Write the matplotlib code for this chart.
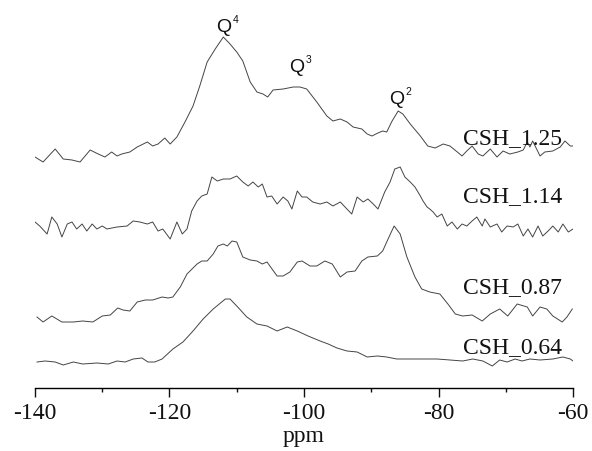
import matplotlib
matplotlib.use("Agg")

import matplotlib.pyplot as plt
from matplotlib.ticker import MultipleLocator

# 29Si NMR spectra, intensity in arbitrary units
SAMPLES = ["CSH_1.25", "CSH_1.14", "CSH_0.87", "CSH_0.64"]

PPM_125 = [-140.0, -138.8, -137.0, -135.8, -134.5, -133.3, -131.8, -130.6, -129.6, -128.6,
           -127.8, -127.1, -125.9, -124.8, -123.3, -122.5, -121.7, -120.7, -119.9, -118.9,
           -117.7, -116.5, -115.5, -114.4, -113.2, -112.0, -111.0, -110.0, -109.1, -108.0,
           -107.0, -106.1, -105.4, -104.6, -103.1, -101.6, -100.6, -99.6, -98.1, -96.6,
           -95.7, -94.6, -93.6, -92.7, -91.4, -90.6, -89.9, -89.0, -88.3, -87.7,
           -86.9, -86.0, -85.3, -84.2, -82.7, -81.6, -80.5, -79.3, -78.3, -77.2,
           -76.5, -75.8, -75.0, -74.1, -73.4, -72.3, -71.3, -70.4, -69.4, -68.2,
           -67.4, -66.8, -66.4, -66.0, -64.9, -64.2, -63.0, -61.9, -61.2, -60.4, -60.0]
INT_125 = [7, 2, 15, 5, 4, 2, 14, 10, 7, 12,
           8, 10, 12, 17, 22, 18, 20, 26, 20, 27,
           42, 58, 78, 102, 115, 127, 120, 112, 103, 82,
           72, 70, 67, 74, 75, 77, 77, 75, 62, 48,
           43, 45, 42, 37, 35, 30, 28, 31, 33, 32,
           43, 53, 50, 40, 28, 18, 16, 20, 18, 12,
           8, 13, 18, 10, 8, 15, 7, 13, 10, 12,
           14, 22, 17, 23, 8, 12, 13, 17, 23, 18, 18]

PPM_114 = [-140.0, -139.3, -138.2, -137.5, -136.7, -136.0, -135.2, -134.5, -133.8, -133.0,
           -132.3, -131.5, -130.8, -130.0, -129.3, -127.8, -126.3, -125.4, -124.4, -123.3,
           -122.5, -121.7, -121.0, -119.9, -118.9, -118.1, -117.4, -116.7, -115.9, -115.2,
           -114.4, -113.7, -112.9, -112.0, -111.0, -110.0, -109.1, -108.3, -107.6, -106.8,
           -106.2, -105.5, -104.8, -104.0, -103.1, -102.4, -101.8, -101.0, -100.3, -99.6,
           -98.7, -97.6, -96.6, -95.7, -94.6, -93.9, -92.9, -92.1, -91.2, -90.5,
           -89.7, -89.0, -88.0, -87.2, -86.5, -85.7, -85.0, -84.2, -83.5, -82.7,
           -82.3, -81.7, -81.3, -80.8, -80.2, -79.5, -78.7, -78.0, -77.2, -76.5,
           -75.8, -75.0, -74.3, -73.5, -73.1, -72.3, -71.3, -70.6, -69.8, -68.9,
           -68.2, -67.4, -66.7, -66.0, -65.2, -64.5, -63.7, -63.0, -62.2, -61.5, -60.7, -60.0]
INT_114 = [17, 13, 5, 22, 15, 2, 15, 17, 10, 15,
           8, 15, 10, 13, 10, 12, 13, 18, 17, 15,
           17, 8, 10, 0, 17, 5, 10, 28, 38, 43,
           45, 62, 58, 60, 60, 63, 57, 53, 57, 52,
           55, 42, 43, 35, 42, 38, 30, 48, 42, 42,
           37, 35, 37, 33, 37, 32, 25, 42, 37, 40,
           35, 30, 47, 57, 70, 72, 62, 57, 52, 43,
           38, 32, 30, 27, 22, 25, 13, 17, 10, 15,
           13, 18, 22, 13, 20, 12, 15, 7, 13, 12,
           15, 3, 10, 2, 13, 3, 8, 13, 7, 15, 7, 10]

PPM_087 = [-139.7, -138.8, -137.5, -136.0, -134.3, -132.9, -131.4, -130.0, -128.8, -127.7,
           -126.9, -125.9, -124.8, -123.6, -122.5, -121.1, -120.2, -119.5, -118.4, -117.4,
           -115.9, -115.2, -114.4, -113.5, -112.8, -112.0, -111.4, -110.7, -110.0, -109.1,
           -108.0, -107.0, -106.2, -105.5, -104.0, -103.1, -102.1, -101.0, -100.3, -99.1,
           -98.1, -96.9, -95.8, -94.6, -93.6, -92.4, -91.4, -90.5, -89.1, -88.3,
           -87.5, -86.6, -85.7, -84.7, -83.5, -82.5, -81.3, -79.8, -78.6, -77.5,
           -76.4, -75.0, -73.5, -72.3, -70.9, -69.7, -68.3, -66.8, -66.0, -64.9,
           -63.9, -63.0, -61.6, -60.9, -60.1]
INT_087 = [7, 2, 8, 2, 2, 3, 2, 8, 9, 16,
           14, 13, 22, 24, 24, 27, 26, 27, 37, 50,
           60, 63, 63, 70, 78, 80, 78, 83, 82, 67,
           64, 63, 60, 62, 48, 48, 52, 62, 63, 58,
           58, 63, 60, 47, 52, 53, 63, 67, 68, 73,
           85, 98, 90, 67, 47, 35, 32, 30, 20, 10,
           8, 9, 3, 10, 15, 8, 20, 17, 8, 17,
           15, 8, 2, 7, 15]

PPM_064 = [-139.7, -138.5, -137.0, -135.8, -134.3, -132.9, -130.8, -129.1, -127.8, -126.6,
           -125.4, -124.1, -123.2, -122.2, -121.1, -119.5, -118.0, -116.5, -115.0, -113.5,
           -111.7, -111.0, -110.0, -108.5, -107.0, -105.5, -104.0, -102.5, -101.0, -99.4,
           -97.6, -96.4, -95.1, -93.6, -92.1, -90.6, -89.1, -87.7, -86.2, -84.2,
           -82.3, -80.2, -78.3, -76.4, -74.9, -73.4, -72.0, -70.9, -69.8, -68.6,
           -67.6, -66.4, -64.9, -63.0, -61.5, -60.4, -60.0]
INT_064 = [4, 5, 4, 1, 4, 2, 3, 2, 5, 4,
           7, 8, 4, 4, 7, 17, 24, 35, 47, 57,
           67, 67, 60, 49, 42, 40, 35, 39, 35, 30,
           25, 22, 18, 15, 14, 9, 10, 9, 7, 7,
           7, 7, 6, 5, 7, 5, 0, 6, 4, 7,
           5, 7, 6, 7, 9, 7, 5]

PEAK_NAMES = ["Q", "Q", "Q"]
PEAK_SUPS = ["4", "3", "2"]

# layout (stack offsets and label positions in axis units)
OFFSETS = [224, 149, 64, 22]
SAMPLE_LABEL_X = -76.4
SAMPLE_LABEL_Y = [245, 187, 96, 36]
PEAK_X = [-111.9, -101.1, -86.2]
PEAK_Y = [357, 317, 285]
SUP_DX = 1.3
SUP_DY = 9

LINE_COLOR = "#444444"
TEXT_COLOR = "#111111"

plt.rcParams.update({
    "font.family": "serif",
    "font.serif": ["Liberation Serif", "DejaVu Serif"],
    "font.sans-serif": ["Liberation Sans", "Arimo", "DejaVu Sans"],
    "font.size": 17,
    "axes.unicode_minus": False,
    "text.color": TEXT_COLOR,
    "axes.labelcolor": TEXT_COLOR,
    "xtick.color": TEXT_COLOR,
})


def main():
    fig = plt.figure(figsize=(5.92, 4.52), dpi=100, facecolor="white")
    ax = fig.add_axes([35 / 592, 63 / 452, 538 / 592, 389 / 452])

    series = [(PPM_125, INT_125), (PPM_114, INT_114), (PPM_087, INT_087), (PPM_064, INT_064)]
    for (ppm, inten), off, name, ly in zip(series, OFFSETS, SAMPLES, SAMPLE_LABEL_Y):
        ax.plot(ppm, [v + off for v in inten], color=LINE_COLOR, linewidth=0.7)
        ax.text(SAMPLE_LABEL_X, ly, name, fontsize=17, ha="left", va="baseline")

    # Q^n peak labels, sans-serif like the original
    for name, sup, x, y in zip(PEAK_NAMES, PEAK_SUPS, PEAK_X, PEAK_Y):
        ax.text(x, y, name, family="sans-serif", fontsize=14, ha="center", va="baseline")
        ax.text(x + SUP_DX, y + SUP_DY, sup, family="sans-serif", fontsize=7.5,
                ha="left", va="baseline")

    ax.set_xlim(-140, -60)
    ax.set_ylim(0, 389)
    ax.xaxis.set_major_locator(MultipleLocator(20))
    ax.xaxis.set_minor_locator(MultipleLocator(10))
    ax.tick_params(axis="x", which="major", direction="out", length=6.2, width=1.0,
                   labelsize=17, pad=4)
    ax.tick_params(axis="x", which="minor", direction="out", length=2.6, width=1.0)
    ax.set_yticks([])

    for side in ["top", "right", "left"]:
        ax.spines[side].set_visible(False)
    ax.spines["bottom"].set_linewidth(1.0)

    ax.set_xlabel("ppm", fontsize=17, labelpad=1)

    fig.savefig("out.png", dpi=100, facecolor="white")
    plt.close(fig)


if __name__ == "__main__":
    main()
